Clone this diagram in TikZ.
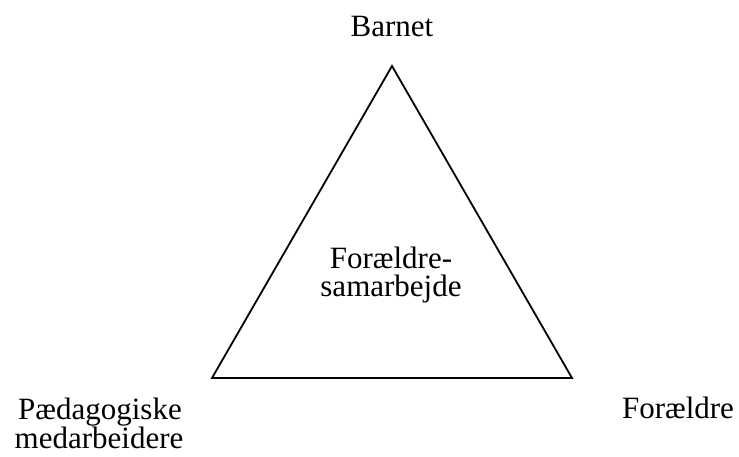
\documentclass[tikz,border=0pt]{standalone}
\usepackage{fontspec}
\setmainfont{Liberation Serif}
\begin{document}
\begin{tikzpicture}[x=1pt,y=-1pt,
  lbl/.style={font=\fontsize{31}{29}\selectfont, inner sep=0pt, anchor=base, align=center},
  edge/.style={line width=1.8pt, line join=miter}]
\useasboundingbox (0,0) rectangle (739,456);
\coordinate (top) at (392,66);
\coordinate (bl) at (212,378);
\coordinate (br) at (572,378);
\draw[edge] (top) -- (bl) -- (br) -- cycle;
\node[lbl] (barnet) at (392,36) {Barnet};
\node[lbl] (fs1) at (391,268) {Forældre-};
\node[lbl] (fs2) at (391,296) {samarbejde};
\node[lbl] (paed1) at (100,419) {Pædagogiske};
\node[lbl] (paed2) at (99,448) {medarbeidere};
\node[lbl] (foraeldre) at (678,418) {Forældre};
\end{tikzpicture}
\end{document}
